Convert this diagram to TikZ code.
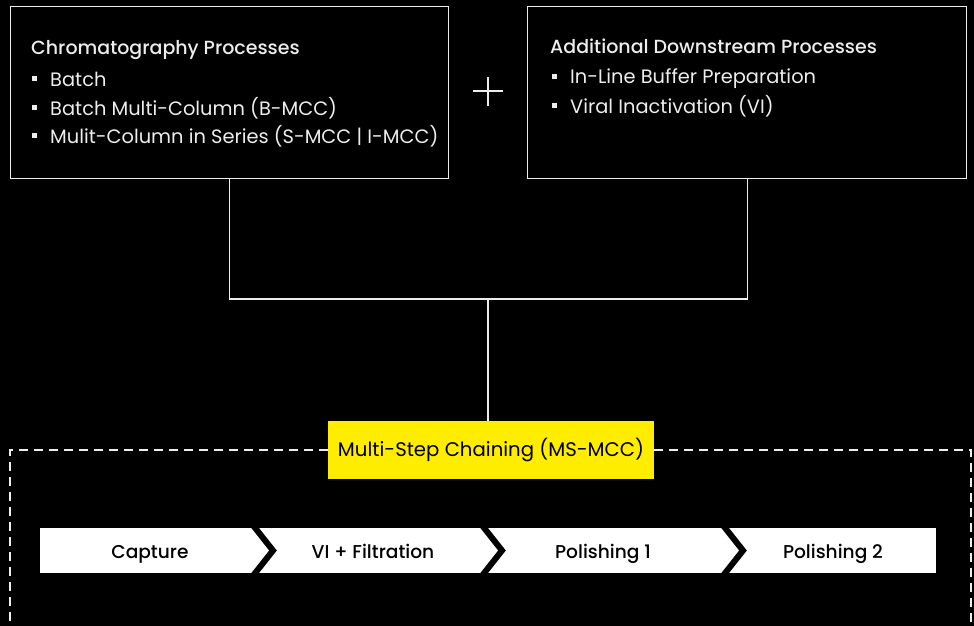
\documentclass[tikz,border=0pt]{standalone}
\usepackage{fontspec}
\setmainfont{Poppins}[BoldFont={Poppins Medium}]
\definecolor{txtw}{HTML}{EDEDED}
\definecolor{msyellow}{HTML}{FFED00}
\begin{document}
\begin{tikzpicture}[x=1pt,y=-1pt,
  procbox/.style={draw=txtw, line width=1.2pt, minimum width=438pt, minimum height=172pt, anchor=north west, inner sep=0pt},
  txt/.style={text=txtw, anchor=base west, inner sep=0pt, font=\fontsize{19.4}{22}\selectfont},
  ttl/.style={txt, font=\fontsize{19}{22}\selectfont\bfseries},
  wire/.style={draw=txtw, line width=1.2pt},
  dashline/.style={draw=txtw, line width=1.6pt, dash pattern=on 9pt off 6pt},
  stepbar/.style={fill=white, draw=none},
  stepsep/.style={draw=black, line width=6pt, line join=miter},
  steptxt/.style={text=black, inner sep=0pt, anchor=base, font=\fontsize{18.6}{22}\selectfont\bfseries}]
\fill[black] (0,0) rectangle (974,626);
\useasboundingbox (0,0) rectangle (974,626);
\newcommand{\bul}{\rule[5pt]{5pt}{5pt}\hspace{13pt}}

% boxes
\node[procbox] (chrom) at (10,6) {};
\node[procbox, minimum width=439pt] (adds) at (527,6) {};

\node[ttl] (ct) at (31,55) {Chromatography Processes};
\node[txt] (c1) at (32,86) {\bul Batch};
\node[txt] (c2) at (32,115) {\bul Batch Multi-Column (B-MCC)};
\node[txt] (c3) at (32,143) {\bul Mulit-Column in Series (S-MCC | I-MCC)};

\node[ttl] (at) at (550,53) {Additional Downstream Processes};
\node[txt] (a1) at (552,84) {\bul In-Line Buffer Preparation};
\node[txt] (a2) at (552,113) {\bul Viral Inactivation (VI)};

% plus
\coordinate (plus) at (488,91);
\draw[wire] ([xshift=-15pt]plus) -- ([xshift=15pt]plus);
\draw[wire] ([yshift=-15pt]plus) -- ([yshift=14pt]plus);

% connectors
\coordinate (j) at (488,299);
\draw[wire] (chrom.south) |- (j) -| (adds.south);

% yellow
\node[fill=msyellow, minimum width=326pt, minimum height=58pt, inner sep=0pt, font=\fontsize{19.7}{22}\selectfont, text=black] (ms) at (491,450) {Multi-Step Chaining (MS-MCC)};
\draw[wire] (j) -- (j |- ms.north);

% dashed frame
\coordinate (dl) at (10,450);
\coordinate (dr) at (971,450);
\draw[dashline] (ms.west) -- (dl) -- (10,640);
\draw[dashline] (ms.east) -- (dr) -- (971,640);

% chevron bar
\fill[stepbar] (40,528) rectangle (936,573);
\draw[stepsep] (252,524) -- (273,550.5) -- (252,577);
\draw[stepsep] (481,524) -- (502,550.5) -- (481,577);
\draw[stepsep] (722,524) -- (743,550.5) -- (722,577);
\node[steptxt] (s1) at (150,558) {Capture};
\node[steptxt] (s2) at (373,558) {VI + Filtration};
\node[steptxt] (s3) at (603,558) {Polishing 1};
\node[steptxt] (s4) at (833,558) {Polishing 2};
\end{tikzpicture}
\end{document}
